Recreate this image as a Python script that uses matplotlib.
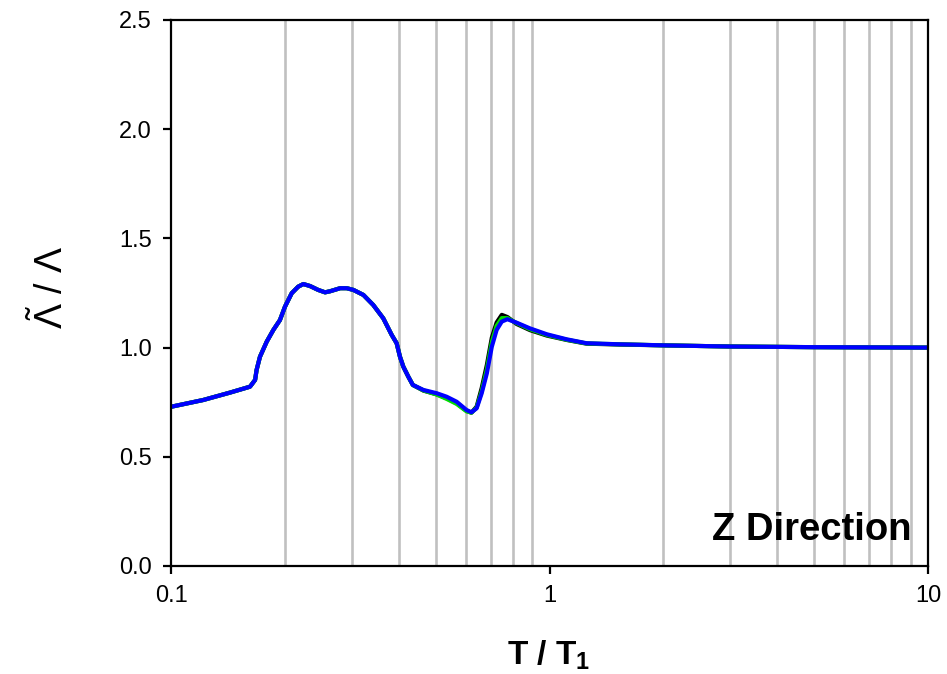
import matplotlib
matplotlib.use("Agg")
import matplotlib.pyplot as plt
from matplotlib.ticker import FixedLocator, NullFormatter

plt.rcParams['font.family'] = ['Liberation Sans', 'DejaVu Sans']
plt.rcParams['mathtext.fontset'] = 'custom'
plt.rcParams['mathtext.rm'] = 'Liberation Sans'
plt.rcParams['mathtext.bf'] = 'Liberation Sans:bold'
plt.rcParams['mathtext.it'] = 'Liberation Sans:italic'

period_ratio = [0.100, 0.1216, 0.1432, 0.1617, 0.1668, 0.1683, 0.1718, 0.179, 0.1864, 0.194,
                0.200, 0.2084, 0.2168, 0.2237, 0.2329, 0.2449, 0.2553, 0.2632, 0.2799, 0.2912,
                0.3034, 0.3224, 0.3423, 0.3638, 0.3829, 0.3946, 0.4027, 0.4109, 0.4236, 0.4354,
                0.4645, 0.5036, 0.535, 0.5686, 0.604, 0.622, 0.642, 0.662, 0.683, 0.704,
                0.725, 0.748, 0.774, 0.819, 0.888, 0.984, 1.110, 1.253, 1.535, 2.04,
                3.0, 5.0, 10.0]

series_black = [0.729, 0.760, 0.794, 0.821, 0.852, 0.897, 0.958, 1.027, 1.081, 1.126,
                1.187, 1.249, 1.279, 1.291, 1.282, 1.264, 1.253, 1.258, 1.272, 1.272,
                1.264, 1.241, 1.195, 1.134, 1.058, 1.020, 0.958, 0.913, 0.867, 0.829,
                0.803, 0.786, 0.768, 0.745, 0.710, 0.702, 0.730, 0.815, 0.920, 1.045,
                1.115, 1.150, 1.140, 1.108, 1.080, 1.055, 1.035, 1.018, 1.014, 1.010,
                1.005, 1.002, 1.000]

series_green = [0.729, 0.760, 0.794, 0.821, 0.852, 0.897, 0.958, 1.027, 1.081, 1.126,
                1.187, 1.249, 1.279, 1.291, 1.282, 1.264, 1.253, 1.258, 1.272, 1.272,
                1.264, 1.241, 1.195, 1.134, 1.058, 1.020, 0.958, 0.913, 0.867, 0.829,
                0.804, 0.785, 0.765, 0.742, 0.708, 0.702, 0.726, 0.800, 0.900, 1.025,
                1.100, 1.135, 1.135, 1.112, 1.084, 1.058, 1.036, 1.019, 1.015, 1.010,
                1.005, 1.002, 1.000]

series_blue = [0.729, 0.760, 0.794, 0.821, 0.852, 0.897, 0.958, 1.027, 1.081, 1.126,
               1.187, 1.249, 1.279, 1.291, 1.282, 1.264, 1.253, 1.258, 1.272, 1.272,
               1.264, 1.241, 1.195, 1.134, 1.058, 1.020, 0.958, 0.913, 0.867, 0.829,
               0.806, 0.791, 0.775, 0.752, 0.714, 0.704, 0.722, 0.791, 0.882, 1.004,
               1.081, 1.119, 1.130, 1.114, 1.088, 1.061, 1.038, 1.020, 1.015, 1.010,
               1.005, 1.002, 1.000]

grid_positions = [0.2, 0.3, 0.4, 0.5, 0.6, 0.7, 0.8, 0.9, 2, 3, 4, 5, 6, 7, 8, 9]
x_ticks = [0.1, 1, 10]
x_ticklabels = ['0.1', '1', '10']
y_ticks = [0.0, 0.5, 1.0, 1.5, 2.0, 2.5]
y_ticklabels = ['0.0', '0.5', '1.0', '1.5', '2.0', '2.5']

fig = plt.figure(figsize=(9.47, 6.74), dpi=100)
ax = fig.add_axes([171/947, 1 - 566/674, (928-171)/947, (566-20)/674])

for g in grid_positions:
    ax.axvline(g, color='#c0c0c0', lw=1.9, zorder=1)

ax.plot(period_ratio, series_black, color='black', lw=3.0, zorder=3, solid_joinstyle='round')
ax.plot(period_ratio, series_green, color='#00dd00', lw=3.0, zorder=4, solid_joinstyle='round')
ax.plot(period_ratio, series_blue, color='#0000ff', lw=3.0, zorder=5, solid_joinstyle='round')

ax.set_xscale('log')
ax.set_xlim(0.1, 10)
ax.set_ylim(0, 2.5)
ax.xaxis.set_major_locator(FixedLocator(x_ticks))
ax.set_xticklabels(x_ticklabels)
ax.xaxis.set_minor_locator(FixedLocator([]))
ax.xaxis.set_minor_formatter(NullFormatter())
ax.set_yticks(y_ticks)
ax.set_yticklabels(y_ticklabels)

for s in ax.spines.values():
    s.set_linewidth(1.6)
    s.set_color('black')
    s.set_zorder(6)
ax.tick_params(axis='both', which='major', direction='out', length=6, width=1.6,
               labelsize=17, pad=8, color='black')

fig.text(549/947, 9/674, r'T / T$_\mathbf{1}$', fontsize=24, fontweight='bold',
         ha='center', va='baseline')
fig.text(63/947, 1 - 287/674, r'$\tilde{\Lambda}$ / $\Lambda$', fontsize=27,
         rotation=90, rotation_mode='anchor', ha='center', va='baseline')

ax.text(0.979, 0.048, 'Z Direction', transform=ax.transAxes, ha='right', va='baseline',
        fontsize=27.5, fontweight='bold', zorder=7)

fig.savefig('out.png', dpi=100)
